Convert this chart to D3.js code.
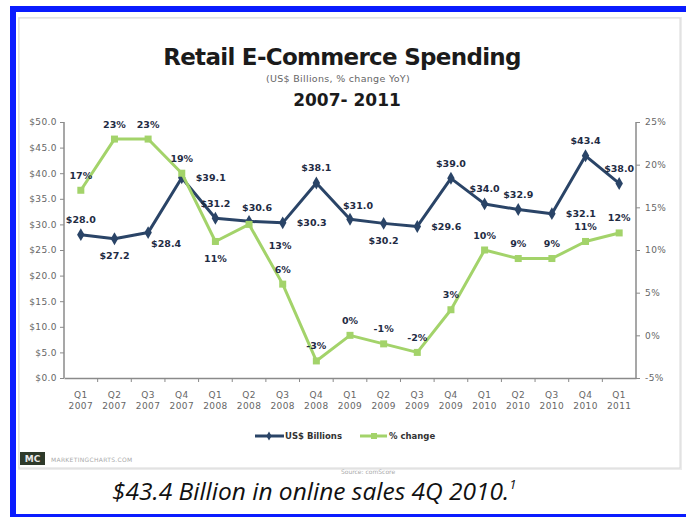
<!DOCTYPE html>
<html>
<head>
<meta charset="utf-8">
<script src="https://cdn.jsdelivr.net/npm/d3@7/dist/d3.min.js"></script>
<style>
  html, body { margin: 0; padding: 0; background: #fff; overflow: hidden; }
  svg { display: block; }
</style>
</head>
<body>
<svg id="chart" width="686" height="517"></svg>
<script>
// Quarterly retail e-commerce spending, 2007 - 2011
const quarters = ["Q1", "Q2", "Q3", "Q4", "Q1", "Q2", "Q3", "Q4", "Q1", "Q2", "Q3", "Q4", "Q1", "Q2", "Q3", "Q4", "Q1"];
const years = ["2007", "2007", "2007", "2007", "2008", "2008", "2008", "2008", "2009", "2009", "2009", "2009", "2010", "2010", "2010", "2010", "2011"];
const usdBillions = [28.0, 27.2, 28.4, 39.1, 31.2, 30.6, 30.3, 38.1, 31.0, 30.2, 29.6, 39.0, 34.0, 32.9, 32.1, 43.4, 38.0];
const pctChange = [17, 23, 23, 19, 11, 13, 6, -3, 0, -1, -2, 3, 10, 9, 9, 11, 12];
const usdTicks = [0, 5, 10, 15, 20, 25, 30, 35, 40, 45, 50];
const pctTicks = [-5, 0, 5, 10, 15, 20, 25];

// where each value label sits relative to its point
const usdLabelSide = ["above", "below", "belowRight", "right", "above", "aboveRight", "right", "above", "aboveRight",
                      "below", "right", "above", "above", "above", "right", "above", "above"];
const pctLabelSide = ["above", "above", "above", "above", "below", "farRight", "above", "above", "above",
                      "above", "above", "above", "above", "above", "above", "above", "above"];

const svg = d3.select("#chart");
const NAVY = "#2a4467", GREEN = "#a3d36a", AXIS = "#8a8a8a", TICKTXT = "#666", LABEL = "#1f2c44";
const FONT = "'DejaVu Sans', Verdana, sans-serif";

// page frame: top, left and bottom edges
const frame = svg.append("g").attr("stroke", "#0a1cff").attr("stroke-width", 6);
frame.append("line").attr("x1", 10).attr("x2", 686).attr("y1", 9).attr("y2", 9);
frame.append("line").attr("x1", 13).attr("x2", 13).attr("y1", 6).attr("y2", 517);
frame.append("line").attr("x1", 10).attr("x2", 686).attr("y1", 515.5).attr("y2", 515.5).attr("stroke-width", 3);

// chart card with soft edge
svg.append("rect").attr("x", 20).attr("y", 19).attr("width", 660).attr("height", 449)
  .attr("fill", "none").attr("stroke", "#ececec").attr("stroke-width", 4);
svg.append("rect").attr("x", 19).attr("y", 18).attr("width", 661).attr("height", 450)
  .attr("fill", "#fff").attr("stroke", "#d8d8d8").attr("stroke-width", 1);

// titles
svg.append("text").attr("x", 342).attr("y", 65).attr("text-anchor", "middle")
  .style("font", `bold 23px ${FONT}`).attr("fill", "#1b1b1b").attr("letter-spacing", -0.7)
  .text("Retail E-Commerce Spending");
svg.append("text").attr("x", 338).attr("y", 82).attr("text-anchor", "middle")
  .style("font", `9.5px ${FONT}`).attr("fill", "#666").attr("letter-spacing", 0.3)
  .text("(US$ Billions,  % change YoY)");
svg.append("text").attr("x", 347).attr("y", 106).attr("text-anchor", "middle")
  .style("font", `bold 17px ${FONT}`).attr("fill", "#1b1b1b").text("2007- 2011");

// scales
const idx = d3.range(quarters.length);
const x = d3.scaleBand().domain(idx).range([64, 636]).padding(0);
const cx = i => x(i) + x.bandwidth() / 2;
const yL = d3.scaleLinear().domain([0, 50]).range([378, 122]);
const yR = d3.scaleLinear().domain([-5, 25]).range([378, 122]);

// left axis
const gL = svg.append("g").attr("transform", "translate(64,0)")
  .call(d3.axisLeft(yL).tickValues(usdTicks).tickSize(4).tickPadding(3).tickFormat(d => "$" + d.toFixed(1)));
// right axis
const gR = svg.append("g").attr("transform", "translate(636,0)")
  .call(d3.axisRight(yR).tickValues(pctTicks).tickSize(4).tickPadding(5).tickFormat(d => d + "%"));
// bottom axis: ticks on category boundaries
const gB = svg.append("g").attr("transform", "translate(0,378)")
  .call(d3.axisBottom(x).tickSize(0).tickPadding(0).tickFormat(() => ""));
gB.selectAll(".tick").remove();
gB.selectAll(".bound").data(d3.range(1, quarters.length)).join("line").attr("class", "bound")
  .attr("x1", i => x(i)).attr("x2", i => x(i)).attr("y1", 0).attr("y2", 4)
  .attr("stroke", AXIS);

[gL, gR, gB].forEach(g => {
  g.select(".domain").attr("stroke", AXIS).attr("stroke-width", 1.5);
  g.selectAll(".tick line").attr("stroke", AXIS);
  g.selectAll(".tick text").style("font", `9px ${FONT}`).attr("fill", TICKTXT).attr("letter-spacing", 0.4);
});
gL.select(".domain").attr("d", "M0,122V378");
gR.select(".domain").attr("d", "M0,122V378");

// category labels (two lines)
const cat = svg.append("g").style("font", `9px ${FONT}`).attr("fill", TICKTXT)
  .attr("text-anchor", "middle").attr("letter-spacing", 0.4);
cat.selectAll(".q").data(idx).join("text").attr("x", cx).attr("y", 398).text(i => quarters[i]);
cat.selectAll(".yr").data(idx).join("text").attr("x", cx).attr("y", 409).text(i => years[i]);

// lines
const lineUsd = d3.line().x((d, i) => cx(i)).y(d => yL(d));
const linePct = d3.line().x((d, i) => cx(i)).y(d => yR(d));

svg.append("path").attr("d", lineUsd(usdBillions)).attr("fill", "none")
  .attr("stroke", NAVY).attr("stroke-width", 3).attr("stroke-linejoin", "round");
svg.append("g").selectAll("path").data(usdBillions).join("path")
  .attr("transform", (d, i) => `translate(${cx(i)},${yL(d)})`)
  .attr("d", d3.symbol(d3.symbolDiamond, 48)).attr("fill", NAVY);

svg.append("path").attr("d", linePct(pctChange)).attr("fill", "none")
  .attr("stroke", GREEN).attr("stroke-width", 3).attr("stroke-linejoin", "round");
svg.append("g").selectAll("rect").data(pctChange).join("rect")
  .attr("x", (d, i) => cx(i) - 3.5).attr("y", d => yR(d) - 3.5)
  .attr("width", 7).attr("height", 7).attr("fill", GREEN);

// value labels
const offsets = {
  above: [0, -14], below: [0, 18], right: [29, 1], aboveRight: [8, -13],
  belowRight: [18, 12], farRight: [31, 22]
};
const lab = svg.append("g").style("font", `bold 9.5px ${FONT}`).attr("fill", LABEL)
  .attr("text-anchor", "middle").attr("dominant-baseline", "middle");
lab.selectAll(".u").data(usdBillions).join("text")
  .attr("x", (d, i) => cx(i) + offsets[usdLabelSide[i]][0])
  .attr("y", (d, i) => yL(d) + offsets[usdLabelSide[i]][1])
  .text(d => "$" + d.toFixed(1));
lab.selectAll(".p").data(pctChange).join("text")
  .attr("x", (d, i) => cx(i) + offsets[pctLabelSide[i]][0])
  .attr("y", (d, i) => yR(d) + offsets[pctLabelSide[i]][1])
  .text(d => d + "%");

// legend
const leg = svg.append("g").style("font", `bold 8.5px ${FONT}`).attr("fill", "#333");
leg.append("line").attr("x1", 255).attr("x2", 284).attr("y1", 436).attr("y2", 436)
  .attr("stroke", NAVY).attr("stroke-width", 3);
leg.append("path").attr("transform", "translate(269,436)").attr("d", d3.symbol(d3.symbolDiamond, 24)).attr("fill", NAVY);
leg.append("text").attr("x", 285).attr("y", 439).text("US$ Billions");
leg.append("line").attr("x1", 360).attr("x2", 387).attr("y1", 436).attr("y2", 436)
  .attr("stroke", GREEN).attr("stroke-width", 3);
leg.append("rect").attr("x", 371).attr("y", 433).attr("width", 6).attr("height", 6).attr("fill", GREEN);
leg.append("text").attr("x", 389).attr("y", 439).text("% change");

// publisher mark and source
svg.append("rect").attr("x", 20).attr("y", 452).attr("width", 25).attr("height", 13).attr("fill", "#2e3a2a");
svg.append("text").attr("x", 32.5).attr("y", 462).attr("text-anchor", "middle")
  .style("font", `bold 9px ${FONT}`).attr("fill", "#e8e8e8").text("MC");
svg.append("text").attr("x", 51).attr("y", 462).style("font", `6px ${FONT}`).attr("fill", "#aaa")
  .attr("letter-spacing", 0.3).text("MARKETINGCHARTS.COM");
svg.append("text").attr("x", 368).attr("y", 474).attr("text-anchor", "middle")
  .style("font", `6px ${FONT}`).attr("fill", "#aaa").text("Source: comScore");

// caption
const cap = svg.append("text").attr("x", 112).attr("y", 500)
  .style("font", "italic 24.5px 'Open Sans', 'Liberation Sans', sans-serif").attr("fill", "#111")
  .attr("letter-spacing", 0);
cap.append("tspan").text("$43.4 Billion in online sales 4Q 2010.");
cap.append("tspan").attr("dy", -11).style("font-size", "13px").text("1");
</script>
</body>
</html>
